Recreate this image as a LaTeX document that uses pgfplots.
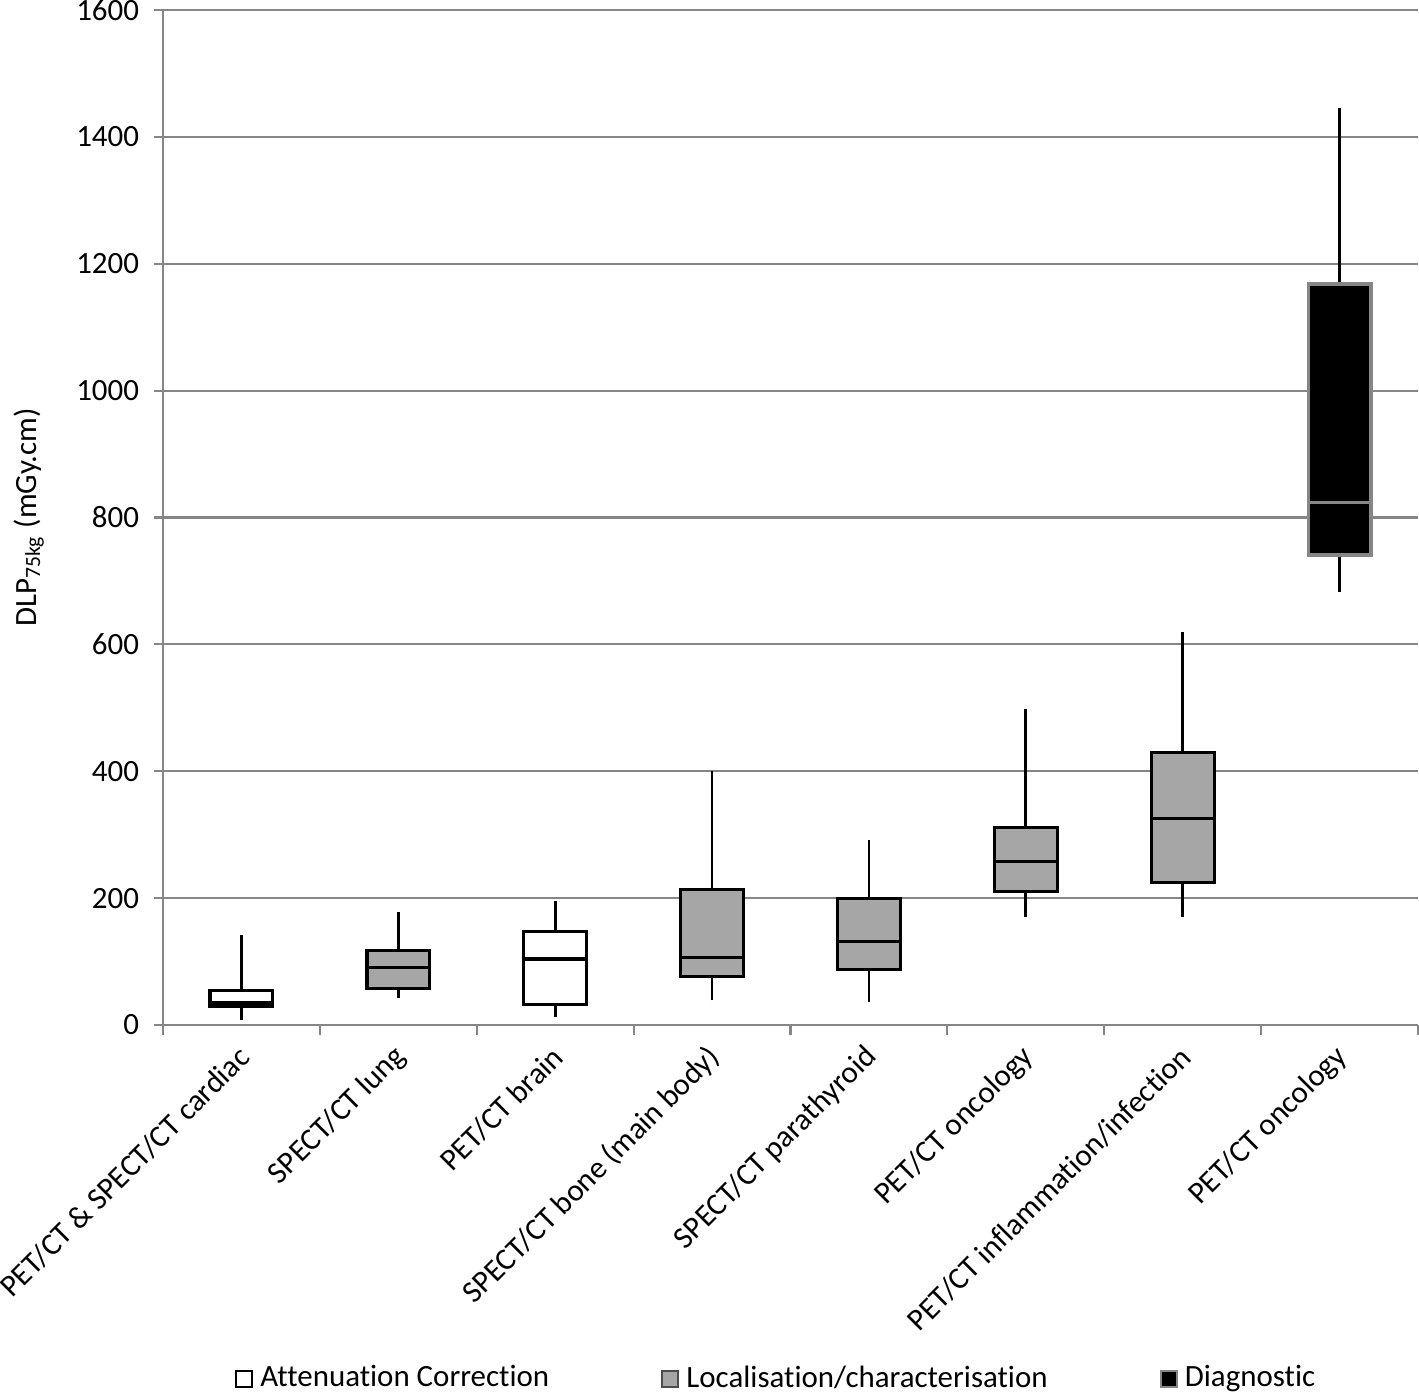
\documentclass[border=0pt]{standalone}
\usepackage{fontspec}
\setmainfont{Carlito}[Ligatures=NoCommon]
\usepackage{pgfplots}
\pgfplotsset{compat=1.18}
\definecolor{boxgray}{HTML}{A6A6A6}
\definecolor{gridgray}{HTML}{868686}
\newcommand{\cfont}{\fontsize{8.8}{10.5}\selectfont}
\pgfplotsset{
  bx/.style={forget plot, mark=none, draw=black, line width=0.9pt},
  wh/.style={forget plot, mark=none, draw=black, line width=0.8pt},
}
\begin{document}
\cfont
\begin{tikzpicture}
\begin{axis}[
  scale only axis, width=12.55cm, height=10.15cm,
  xmin=0.5, xmax=8.5, ymin=0, ymax=1600,
  axis x line*=bottom, axis y line*=left,
  axis line style={gridgray, line width=0.6pt, -},
  ytick={0,200,...,1600},
  ymajorgrids, grid style={gridgray, line width=0.6pt},
  tick align=outside,
  major tick length=0.09cm, minor tick length=0.1cm,
  ytick style={gridgray, line width=0.6pt},
  major x tick style={draw=none},
  minor x tick style={gridgray, line width=0.6pt},
  xtick={1,...,8},
  minor xtick={0.5,1.5,...,8.5},
  xticklabels={PET/CT \& SPECT/CT cardiac, SPECT/CT lung, PET/CT brain, SPECT/CT bone (main body), SPECT/CT parathyroid, PET/CT oncology, PET/CT inflammation/infection, PET/CT oncology},
  xticklabel style={rotate=45, anchor=east, font=\cfont, yshift=-0.15cm},
  yticklabel style={font=\cfont, xshift=-0.04cm},
  /pgf/number format/assume math mode=true,
  scaled y ticks=false, yticklabel style={/pgf/number format/1000 sep={}},
  ylabel={DLP\textsubscript{75kg} (mGy.cm)},
  ylabel style={font=\cfont},
  ylabel shift=0.11cm,
  legend style={at={(0.4906,-0.321)}, anchor=north, draw=none, legend columns=3, font=\cfont,
    /tikz/every even column/.append style={column sep=1.05cm}},
  legend image code/.code={\draw[#1] (0cm,-0.08cm) rectangle (0.16cm,0.08cm);},
]
\addlegendimage{draw=black, fill=white, line width=0.6pt}
\addlegendentry{Attenuation Correction}
\addlegendimage{draw=black!70, fill=boxgray, line width=0.6pt}
\addlegendentry{Localisation/characterisation}
\addlegendimage{draw=gridgray, fill=black, line width=0.6pt}
\addlegendentry{Diagnostic}

% 1: PET/CT & SPECT/CT cardiac
\addplot[wh] coordinates {(1,8) (1,30)};
\addplot[wh] coordinates {(1,54) (1,142)};
\addplot[bx, fill=white] coordinates {(0.8,30) (1.2,30) (1.2,54) (0.8,54)} -- cycle;
\addplot[bx] coordinates {(0.8,36) (1.2,36)};
% 2: SPECT/CT lung
\addplot[wh] coordinates {(2,43) (2,58)};
\addplot[wh] coordinates {(2,117) (2,178)};
\addplot[bx, fill=boxgray] coordinates {(1.8,58) (2.2,58) (2.2,117) (1.8,117)} -- cycle;
\addplot[bx] coordinates {(1.8,90) (2.2,90)};
% 3: PET/CT brain
\addplot[wh] coordinates {(3,13) (3,32)};
\addplot[wh] coordinates {(3,147) (3,195)};
\addplot[bx, fill=white] coordinates {(2.8,32) (3.2,32) (3.2,147) (2.8,147)} -- cycle;
\addplot[bx] coordinates {(2.8,104) (3.2,104)};
% 4: SPECT/CT bone
\addplot[wh] coordinates {(4,39) (4,76)};
\addplot[wh] coordinates {(4,214) (4,400)};
\addplot[bx, fill=boxgray] coordinates {(3.8,76) (4.2,76) (4.2,214) (3.8,214)} -- cycle;
\addplot[bx] coordinates {(3.8,107) (4.2,107)};
% 5: SPECT/CT parathyroid
\addplot[wh] coordinates {(5,36) (5,88)};
\addplot[wh] coordinates {(5,199) (5,292)};
\addplot[bx, fill=boxgray] coordinates {(4.8,88) (5.2,88) (5.2,199) (4.8,199)} -- cycle;
\addplot[bx] coordinates {(4.8,131) (5.2,131)};
% 6: PET/CT oncology
\addplot[wh] coordinates {(6,170) (6,211)};
\addplot[wh] coordinates {(6,311) (6,498)};
\addplot[bx, fill=boxgray] coordinates {(5.8,211) (6.2,211) (6.2,311) (5.8,311)} -- cycle;
\addplot[bx] coordinates {(5.8,258) (6.2,258)};
% 7: PET/CT inflammation/infection
\addplot[wh] coordinates {(7,170) (7,225)};
\addplot[wh] coordinates {(7,430) (7,620)};
\addplot[bx, fill=boxgray] coordinates {(6.8,225) (7.2,225) (7.2,430) (6.8,430)} -- cycle;
\addplot[bx] coordinates {(6.8,325) (7.2,325)};
% 8: PET/CT oncology (diagnostic)
\addplot[wh] coordinates {(8,683) (8,741)};
\addplot[wh] coordinates {(8,1168) (8,1446)};
\addplot[bx, draw=gridgray, fill=black] coordinates {(7.8,741) (8.2,741) (8.2,1168) (7.8,1168)} -- cycle;
\addplot[bx, draw=gridgray] coordinates {(7.8,824) (8.2,824)};

\coordinate (bl) at (rel axis cs:0,0);
\coordinate (tr) at (rel axis cs:1,1);
\end{axis}
\pgfresetboundingbox
\useasboundingbox ([xshift=-1.63cm,yshift=-3.70cm]bl) rectangle ([xshift=0.01cm,yshift=0.10cm]tr);
\end{tikzpicture}
\end{document}
